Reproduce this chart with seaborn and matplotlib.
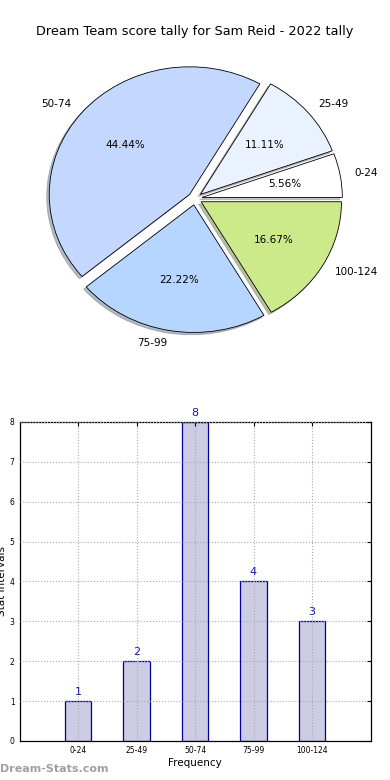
import matplotlib
matplotlib.use('Agg')
import matplotlib.pyplot as plt
import seaborn as sns
import pandas as pd

# Data
intervals = ['0-24', '25-49', '50-74', '75-99', '100-124']
counts = [1, 2, 8, 4, 3]
pie_colors = ['#ffffff', '#eaf1ff', '#c4d8ff', '#b6d5ff', '#cdea8b']
title = 'Dream Team score tally for Sam Reid - 2022 tally'

sns.set_style('white')
plt.rcParams['font.family'] = ['DejaVu Sans']
plt.rcParams['text.color'] = 'black'
plt.rcParams['axes.labelcolor'] = 'black'
plt.rcParams['xtick.color'] = 'black'
plt.rcParams['ytick.color'] = 'black'

fig, (ax1, ax2) = plt.subplots(2, 1, figsize=(3.9, 7.8), dpi=100)
fig.subplots_adjust(left=0.05, right=0.95, top=0.95, bottom=0.05, hspace=0.2)

# Pie
wedges, texts, autotexts = ax1.pie(
    counts, labels=intervals, colors=pie_colors, explode=[0.05] * len(counts),
    autopct='%.2f%%', shadow={'ox': -0.013, 'oy': -0.013, 'shade': 0.45},
    startangle=0,
    wedgeprops={'edgecolor': 'black', 'linewidth': 0.6},
    textprops={'fontsize': 7.5, 'color': 'black'})
ax1.set_aspect('auto')
ax1.set_xlim(-1.25, 1.25)
ax1.set_ylim(-1.25, 1.25)
ax1.set_title(title, fontsize=9.3, pad=3, color='black')

# Bars
df = pd.DataFrame({'interval': intervals, 'count': counts})
sns.barplot(data=df, x='interval', y='count', ax=ax2, width=0.45,
            color='#ccccE4', edgecolor='#000099', linewidth=0.9, saturation=1)
for i, c in enumerate(counts):
    ax2.text(i, c + 0.1, str(c), ha='center', va='bottom', color='#1a1aa0', fontsize=8)
ax2.set_xlim(-1, 5)
ax2.set_ylim(0, 8)
ax2.set_yticks(range(0, 9))
ax2.grid(True, linestyle=':', color='#aaaaaa', linewidth=0.8)
ax2.set_axisbelow(False)
ax2.tick_params(labelsize=5.5, direction='in', top=True, right=True, length=3)
for s in ax2.spines.values():
    s.set_color('black')
    s.set_linewidth(0.9)
ax2.set_xlabel('Frequency', fontsize=7.5, labelpad=2)
ax2.set_ylabel('Stat Intervals', fontsize=7.5, labelpad=2)

fig.text(0.0, 0.01, 'Dream-Stats.com', color='#a0a0a0', fontsize=8, fontweight='bold')

fig.savefig('out.png', dpi=100)
